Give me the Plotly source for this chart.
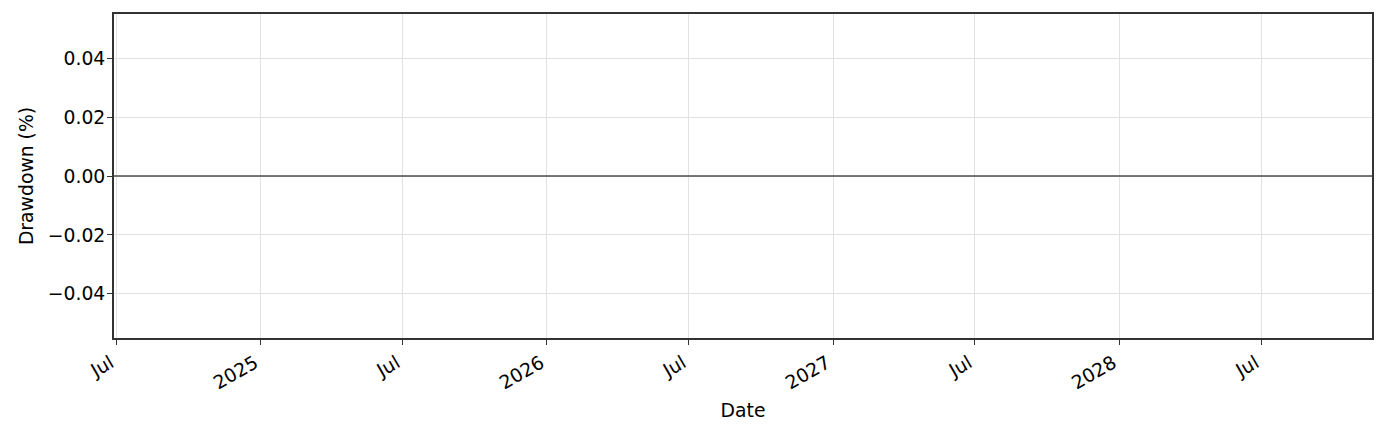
import plotly.graph_objects as go

# 回撤数据（全程为零）
dates = ["2024-09-08", "2025-09-08", "2026-09-08", "2027-09-08", "2028-09-08"]
drawdown = [0.0, 0.0, 0.0, 0.0, 0.0]

# 坐标轴刻度
x_tickvals = ["2024-07-01", "2025-01-01", "2025-07-01", "2026-01-01", "2026-07-01",
              "2027-01-01", "2027-07-01", "2028-01-01", "2028-07-01"]
x_ticktext = ["Jul", "2025", "Jul", "2026", "Jul", "2027", "Jul", "2028", "Jul"]
y_tickvals = [-0.04, -0.02, 0.0, 0.02, 0.04]
y_ticktext = ["\u22120.04", "\u22120.02", "0.00", "0.02", "0.04"]

fig = go.Figure()

# 回撤填充（数值为零，不可见）
fig.add_trace(go.Scatter(
    x=dates, y=drawdown,
    mode='lines',
    line=dict(width=0, color='red'),
    fill='tozeroy',
    fillcolor='rgba(255,0,0,0.3)',
    showlegend=False,
    hoverinfo='skip'
))

# 零线
fig.add_shape(type='line', xref='paper', yref='y', x0=0, x1=1, y0=0, y1=0,
              line=dict(color='#4d4d4d', width=1.4), layer='above')

fs = 18.8

fig.update_layout(
    width=1385,
    height=434,
    plot_bgcolor='white',
    paper_bgcolor='white',
    showlegend=False,
    font=dict(family='DejaVu Sans', size=fs, color='black'),
    margin=dict(l=114, r=13, t=14, b=96),
    xaxis=dict(
        type='date',
        range=["2024-06-27 14:00", "2028-11-18 16:00"],
        tickvals=x_tickvals,
        ticktext=x_ticktext,
        tickangle=-30,
        ticklabelshift=-6,
        ticks='outside', ticklen=5, tickwidth=1.4, tickcolor='#333333',
        showline=True, linecolor='#333333', linewidth=1.8, mirror=True,
        showgrid=True, gridcolor='#e2e2e2', gridwidth=1,
        zeroline=False,
        tickfont=dict(size=fs),
        title=dict(text='Date', font=dict(size=fs), standoff=11),
        fixedrange=True
    ),
    yaxis=dict(
        range=[-0.055, 0.055],
        tickvals=y_tickvals,
        ticktext=y_ticktext,
        ticks='outside', ticklen=5, tickwidth=1.4, tickcolor='#333333',
        ticklabelstandoff=-2,
        showline=True, linecolor='#333333', linewidth=1.8, mirror=True,
        showgrid=True, gridcolor='#e2e2e2', gridwidth=1,
        zeroline=False,
        tickfont=dict(size=fs),
        title=dict(text='Drawdown (%)', font=dict(size=fs), standoff=9),
        fixedrange=True
    )
)

# 去掉页面默认边距，隐藏工具栏
fig.write_html("out.html", config={'displayModeBar': False},
               post_script="document.body.style.margin='0';")
